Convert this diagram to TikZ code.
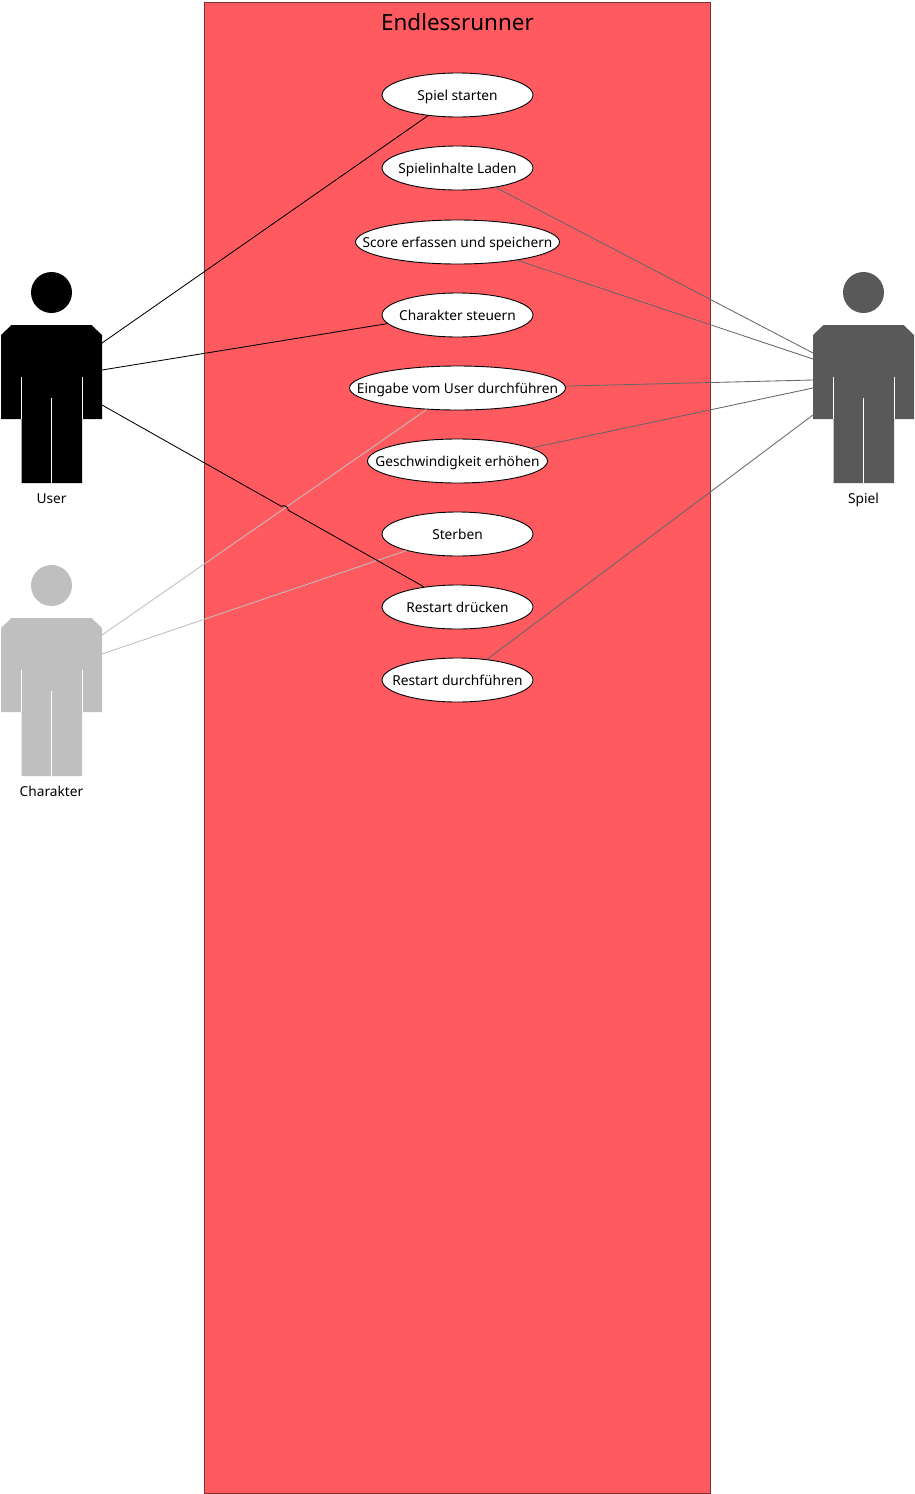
\documentclass[tikz,border=0pt]{standalone}
\usepackage{fontspec}
\setmainfont{Noto Sans}
\usetikzlibrary{shapes.geometric,calc}
\newcommand{\uctext}[1]{\makebox[0pt]{\raisebox{-5pt}[0pt][0pt]{#1}}}
\tikzset{
  uc/.style={ellipse,draw=black,line width=0.9pt,fill=white,inner sep=0pt,minimum height=44pt,font=\fontsize{13.7}{16}\selectfont},
  lab/.style={font=\fontsize{13.7}{16}\selectfont,inner sep=0pt,anchor=base},
  conn/.style={line width=0.85pt},
  actor/.pic={
    \fill[pic actions] (0,-32.5) circle (20.5);
    \fill[pic actions] (-40,0) -- (40,0) -- (50.5,10) -- (50.5,94) -- (30.5,94) -- (30.5,158) -- (-30,158) -- (-30,94) -- (-50.5,94) -- (-50.5,10) -- cycle;
    \draw[line width=0.7pt,draw=white] (-30.5,52) -- (-30.5,94);
    \draw[line width=0.7pt,draw=white] (30.5,52) -- (30.5,94);
    \draw[line width=0.9pt,draw=white] (0,73) -- (0,158);
  }
}
\definecolor{sysred}{HTML}{FF5A5F}
\definecolor{useract}{HTML}{000000}
\definecolor{spielact}{HTML}{595959}
\definecolor{spielline}{HTML}{666666}
\definecolor{charact}{HTML}{BFBFBF}
\begin{document}
\begin{tikzpicture}[x=1pt,y=-1pt]
\useasboundingbox (0,0) rectangle (915,1494);
\fill[white] (0,0) rectangle (915,1494);
\node[draw=black!50!sysred,line width=0.5pt,fill=sysred,minimum width=506pt,minimum height=1490.5pt,inner sep=0pt] (sys) at (457.5,747.75) {};
\node[font=\fontsize{22.4}{25}\selectfont,inner sep=0pt] (title) at (457.5,22.5) {Endlessrunner};

\pic[fill=useract] at (51.5,325) {actor};
\pic[fill=spielact] at (863.5,325) {actor};
\pic[fill=charact] at (51.5,618) {actor};
\node[lab] (luser) at (51.5,503) {User};
\node[lab] (lspiel) at (863.5,503) {Spiel};
\node[lab] (lchar) at (51.5,796) {Charakter};

\coordinate (u1) at (102,343);
\coordinate (u2) at (102,370);
\coordinate (u3) at (102,405);
\coordinate (s1) at (813,353);
\coordinate (s2) at (813,359);
\coordinate (s3) at (813,380);
\coordinate (s4) at (813,388);
\coordinate (s5) at (813,415);
\coordinate (c1) at (102,635);
\coordinate (c2) at (102,654);

\node[uc,minimum width=151pt] (e1) at (457.5,95) {\uctext{Spiel starten}};
\node[uc,minimum width=151pt] (e2) at (457.5,168) {\uctext{Spielinhalte Laden}};
\node[uc,minimum width=204pt] (e3) at (457.5,242) {\uctext{Score erfassen und speichern}};
\node[uc,minimum width=151pt] (e4) at (457.5,315) {\uctext{Charakter steuern}};
\node[uc,minimum width=216pt] (e5) at (457.5,388) {\uctext{Eingabe vom User durchführen}};
\node[uc,minimum width=180pt] (e6) at (457.5,461) {\uctext{Geschwindigkeit erhöhen}};
\node[uc,minimum width=151pt] (e7) at (457.5,534) {\uctext{Sterben}};
\node[uc,minimum width=151pt] (e8) at (457.5,607) {\uctext{Restart drücken}};
\node[uc,minimum width=151pt] (e9) at (457.5,680) {\uctext{Restart durchführen}};

\draw[conn,useract] (u1) -- (e1.215.6);
\draw[conn,useract] (u2) -- (e4.187);
\draw[conn,charact] (c1) -- (e5.215.7);
\draw[conn,charact] (c2) -- (e7.198.5);
\draw[conn,useract] (u3) -- ($(u3)!0.558!(e8.149.5)$) to[bend left=90] ($(u3)!0.578!(e8.149.5)$) -- (e8.149.5);
\draw[conn,spielline] (e2.-27) -- (s1);
\draw[conn,spielline] (e3.-17.5) -- (s2);
\draw[conn,spielline] (e5.1.5) -- (s3);
\draw[conn,spielline] (e6.10.2) -- (s4);
\draw[conn,spielline] (e9.35) -- (s5);
\end{tikzpicture}
\end{document}
